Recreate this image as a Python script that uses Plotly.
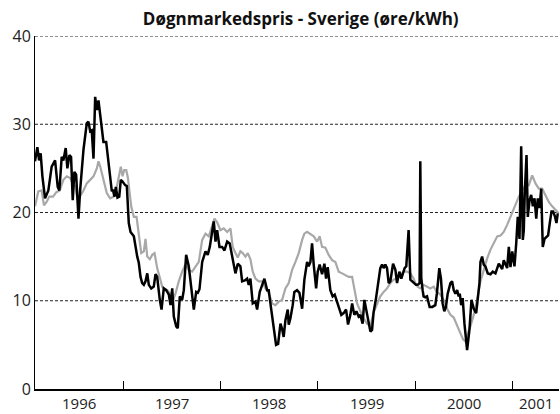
import pandas as pd
import plotly.graph_objects as go

# ---- data (decimal years, øre/kWh) ----
black_t = [1996.092, 1996.116, 1996.134, 1996.150, 1996.168, 1996.195, 1996.229, 1996.263, 1996.298, 1996.325,
           1996.342, 1996.366, 1996.383, 1996.407, 1996.424, 1996.445, 1996.462, 1996.479, 1996.496, 1996.514,
           1996.538, 1996.555, 1996.589, 1996.623, 1996.640, 1996.658, 1996.674, 1996.692, 1996.709, 1996.726,
           1996.743, 1996.761, 1996.794, 1996.822, 1996.856, 1996.880, 1996.890, 1996.908, 1996.921, 1996.938,
           1996.956, 1996.972, 1996.990, 1997.017, 1997.034, 1997.054, 1997.072, 1997.106, 1997.141, 1997.157,
           1997.175, 1997.192, 1997.209, 1997.226, 1997.244, 1997.260, 1997.285, 1997.311, 1997.329, 1997.346,
           1997.373, 1997.391, 1997.414, 1997.439, 1997.466, 1997.483, 1997.501, 1997.517, 1997.542, 1997.558,
           1997.579, 1997.603, 1997.620, 1997.644, 1997.671, 1997.696, 1997.723, 1997.747, 1997.764, 1997.781,
           1997.809, 1997.843, 1997.866, 1997.887, 1997.904, 1997.928, 1997.946, 1997.963, 1997.987, 1998.014,
           1998.038, 1998.066, 1998.092, 1998.123, 1998.151, 1998.175, 1998.202, 1998.220, 1998.247, 1998.271,
           1998.288, 1998.305, 1998.329, 1998.357, 1998.374, 1998.401, 1998.426, 1998.449, 1998.477, 1998.493,
           1998.518, 1998.545, 1998.569, 1998.590, 1998.614, 1998.631, 1998.647, 1998.665, 1998.689, 1998.699,
           1998.716, 1998.740, 1998.757, 1998.785, 1998.809, 1998.837, 1998.860, 1998.888, 1998.904, 1998.922,
           1998.939, 1998.956, 1998.981, 1998.997, 1999.017, 1999.042, 1999.066, 1999.083, 1999.100, 1999.127,
           1999.151, 1999.172, 1999.196, 1999.220, 1999.240, 1999.264, 1999.289, 1999.309, 1999.333, 1999.351,
           1999.374, 1999.395, 1999.418, 1999.436, 1999.459, 1999.477, 1999.497, 1999.521, 1999.539, 1999.556,
           1999.572, 1999.597, 1999.624, 1999.641, 1999.659, 1999.675, 1999.693, 1999.710, 1999.727, 1999.744,
           1999.772, 1999.796, 1999.813, 1999.837, 1999.857, 1999.891, 1999.908, 1999.932, 1999.950, 1999.984,
           2000.008, 2000.025, 2000.045, 2000.052, 2000.062, 2000.076, 2000.086, 2000.103, 2000.121, 2000.148,
           2000.175, 2000.206, 2000.222, 2000.247, 2000.264, 2000.281, 2000.298, 2000.315, 2000.333, 2000.361,
           2000.378, 2000.395, 2000.412, 2000.430, 2000.446, 2000.457, 2000.471, 2000.487, 2000.505, 2000.532,
           2000.556, 2000.577, 2000.600, 2000.625, 2000.641, 2000.659, 2000.669, 2000.686, 2000.703, 2000.720,
           2000.744, 2000.772, 2000.795, 2000.823, 2000.857, 2000.892, 2000.908, 2000.943, 2000.960, 2000.977,
           2000.995, 2001.018, 2001.036, 2001.052, 2001.070, 2001.087, 2001.104, 2001.114, 2001.124, 2001.142,
           2001.155, 2001.173, 2001.190, 2001.207, 2001.224, 2001.242, 2001.258, 2001.275, 2001.293, 2001.309,
           2001.327, 2001.347, 2001.364, 2001.381, 2001.399, 2001.416, 2001.433, 2001.450, 2001.463]
black_v = [25.8, 27.4, 25.9, 26.7, 24.1, 21.6, 22.5, 25.2, 25.9, 22.9,
           22.5, 26.3, 25.9, 27.3, 25.0, 26.5, 26.3, 21.4, 24.6, 24.3,
           19.3, 22.5, 27.1, 30.1, 30.3, 29.2, 29.3, 26.1, 33.1, 31.6,
           32.7, 31.2, 28.0, 28.0, 24.4, 22.4, 22.6, 21.8, 22.9, 21.7,
           21.8, 23.7, 23.5, 23.1, 23.0, 18.8, 17.8, 17.3, 15.0, 14.3,
           12.7, 12.0, 11.8, 12.2, 13.1, 11.8, 11.4, 11.6, 13.0, 12.7,
           10.1, 9.0, 11.4, 11.2, 10.7, 9.5, 11.4, 8.2, 7.1, 6.9,
           10.5, 10.1, 11.2, 15.2, 13.9, 11.6, 9.0, 11.0, 10.9, 11.3,
           14.4, 15.6, 15.2, 16.1, 17.3, 19.0, 16.7, 18.0, 16.1, 16.1,
           15.7, 16.7, 16.5, 14.8, 13.1, 14.2, 13.9, 12.2, 12.3, 12.5,
           11.8, 12.5, 9.7, 9.9, 9.0, 11.0, 11.8, 12.5, 11.2, 11.2,
           9.1, 7.1, 5.0, 5.1, 7.4, 6.8, 5.9, 7.8, 9.0, 7.3,
           8.0, 9.5, 11.0, 11.2, 10.9, 9.1, 12.4, 14.4, 13.9, 14.4,
           16.5, 14.1, 11.4, 13.3, 14.1, 13.0, 14.2, 12.5, 13.8, 11.2,
           10.5, 10.7, 9.9, 9.3, 8.4, 8.6, 9.0, 7.3, 8.4, 9.7,
           8.4, 8.8, 8.2, 8.4, 7.4, 10.1, 9.0, 7.6, 6.5, 6.7,
           8.7, 10.3, 12.4, 13.7, 14.1, 13.7, 14.1, 13.7, 12.0, 12.2,
           14.2, 13.5, 12.0, 13.3, 12.5, 13.7, 13.9, 18.0, 12.4, 12.0,
           11.8, 11.8, 12.0, 25.8, 12.6, 11.2, 10.5, 10.4, 10.5, 9.3,
           9.3, 9.5, 10.8, 13.7, 12.5, 9.7, 8.8, 9.3, 10.8, 12.0,
           12.2, 11.2, 10.8, 11.2, 10.5, 10.8, 9.5, 10.3, 7.4, 4.4,
           6.7, 10.1, 9.1, 8.6, 10.0, 12.0, 14.4, 15.0, 14.1, 13.9,
           13.1, 13.0, 13.3, 13.1, 14.2, 13.6, 14.6, 13.7, 16.1, 13.8,
           15.6, 13.9, 16.5, 19.5, 17.0, 27.5, 16.9, 18.0, 22.2, 26.5,
           19.5, 21.4, 22.0, 20.7, 21.6, 19.3, 21.6, 20.5, 22.7, 16.1,
           17.0, 17.2, 17.4, 18.8, 20.1, 20.1, 19.6, 18.8, 19.9]

gray_t = [1996.092, 1996.126, 1996.160, 1996.184, 1996.211, 1996.239, 1996.277, 1996.311, 1996.346, 1996.383,
          1996.418, 1996.452, 1996.479, 1996.503, 1996.531, 1996.555, 1996.589, 1996.623, 1996.658, 1996.692,
          1996.726, 1996.743, 1996.761, 1996.794, 1996.828, 1996.863, 1996.897, 1996.931, 1996.959, 1996.972,
          1996.990, 1997.007, 1997.028, 1997.044, 1997.079, 1997.106, 1997.134, 1997.157, 1997.182, 1997.209,
          1997.226, 1997.244, 1997.270, 1997.295, 1997.319, 1997.346, 1997.373, 1997.398, 1997.414, 1997.449,
          1997.473, 1997.490, 1997.511, 1997.534, 1997.568, 1997.603, 1997.637, 1997.671, 1997.706, 1997.740,
          1997.774, 1997.809, 1997.843, 1997.877, 1997.912, 1997.935, 1997.963, 1997.997, 1998.031, 1998.066,
          1998.100, 1998.123, 1998.151, 1998.175, 1998.202, 1998.226, 1998.254, 1998.278, 1998.305, 1998.329,
          1998.357, 1998.391, 1998.426, 1998.459, 1998.493, 1998.528, 1998.562, 1998.596, 1998.631, 1998.665,
          1998.699, 1998.734, 1998.768, 1998.802, 1998.837, 1998.860, 1998.888, 1998.922, 1998.956, 1998.991,
          1999.017, 1999.042, 1999.076, 1999.110, 1999.145, 1999.179, 1999.213, 1999.248, 1999.282, 1999.316,
          1999.351, 1999.374, 1999.402, 1999.436, 1999.470, 1999.505, 1999.539, 1999.572, 1999.607, 1999.641,
          1999.675, 1999.710, 1999.744, 1999.778, 1999.813, 1999.847, 1999.881, 1999.915, 1999.950, 1999.984,
          2000.001, 2000.025, 2000.052, 2000.086, 2000.121, 2000.155, 2000.189, 2000.223, 2000.258, 2000.292,
          2000.327, 2000.361, 2000.395, 2000.429, 2000.464, 2000.492, 2000.515, 2000.539, 2000.566, 2000.600,
          2000.635, 2000.669, 2000.703, 2000.738, 2000.772, 2000.806, 2000.841, 2000.875, 2000.908, 2000.943,
          2000.977, 2000.995, 2001.029, 2001.063, 2001.097, 2001.131, 2001.166, 2001.200, 2001.234, 2001.268,
          2001.303, 2001.337, 2001.371, 2001.406, 2001.440, 2001.474]
gray_v = [20.7, 22.4, 22.5, 20.8, 21.2, 21.8, 21.8, 22.3, 22.5, 23.7,
          24.1, 23.9, 23.3, 23.0, 21.4, 21.8, 22.5, 23.3, 23.7, 24.1,
          25.0, 25.8, 25.2, 23.7, 22.2, 21.6, 21.8, 22.9, 24.4, 25.2,
          24.1, 24.8, 24.8, 24.0, 20.7, 19.5, 19.5, 17.6, 15.4, 15.6,
          17.0, 15.0, 14.7, 15.2, 15.4, 13.7, 12.5, 11.6, 11.4, 11.2,
          10.9, 10.7, 10.1, 10.8, 12.2, 13.3, 14.1, 13.5, 13.3, 13.9,
          14.4, 16.9, 17.6, 17.3, 18.4, 19.3, 18.9, 18.0, 18.2, 17.8,
          18.2, 16.1, 15.4, 14.9, 15.6, 15.4, 15.0, 15.4, 14.7, 13.3,
          12.5, 12.2, 12.2, 11.4, 10.9, 9.7, 9.5, 9.9, 10.1, 11.4,
          12.0, 13.5, 14.4, 15.4, 16.9, 17.6, 17.8, 17.5, 17.3, 16.7,
          17.3, 16.1, 16.0, 15.2, 14.6, 14.4, 13.3, 13.1, 12.9, 12.7,
          12.7, 11.2, 9.7, 8.8, 8.0, 7.4, 7.1, 8.7, 9.7, 10.5,
          11.0, 11.4, 12.0, 12.4, 12.5, 12.9, 13.3, 13.3, 13.1, 12.5,
          12.0, 11.6, 11.4, 11.8, 11.6, 11.4, 11.6, 11.0, 10.7, 10.1,
          9.1, 8.4, 8.1, 7.1, 6.3, 5.6, 5.4, 6.3, 7.1, 8.4,
          10.1, 12.2, 13.5, 14.8, 15.8, 16.5, 17.3, 17.4, 17.8, 18.6,
          19.5, 19.9, 21.0, 21.8, 22.5, 23.1, 23.1, 24.2, 23.3, 22.7,
          22.7, 22.0, 21.2, 20.7, 20.3, 19.9]

years = [1996, 1997, 1998, 1999, 2000, 2001]
year_labels = ["1996", "1997", "1998", "1999", "2000", "2001"]
y_ticks = [0, 10, 20, 30, 40]
title_text = "Døgnmarkedspris - Sverige (øre/kWh)"


def to_date(dec):
    y = int(dec)
    start = pd.Timestamp(year=y, month=1, day=1)
    end = pd.Timestamp(year=y + 1, month=1, day=1)
    return start + (dec - y) * (end - start)


black_x = [to_date(t) for t in black_t]
gray_x = [to_date(t) for t in gray_t]

x_start = to_date(1996.092)
x_end = to_date(2001.476)

FONT = "Open Sans"

fig = go.Figure()
fig.add_trace(go.Scatter(x=gray_x, y=gray_v, mode="lines",
                         line=dict(color="#a8a8a8", width=2.2), showlegend=False))
fig.add_trace(go.Scatter(x=black_x, y=black_v, mode="lines",
                         line=dict(color="#000000", width=2.5), showlegend=False))

# dotted horizontal grid lines
for v in y_ticks[1:]:
    fig.add_shape(type="line", xref="paper", x0=0, x1=1, yref="y", y0=v, y1=v,
                  line=dict(color="#222222", width=1, dash="3px,2px"), layer="below")

# year labels centred on the visible part of each year
annotations = []
for yr, lab in zip(years, year_labels):
    a = max(pd.Timestamp(year=yr, month=1, day=1), x_start)
    b = min(pd.Timestamp(year=yr + 1, month=1, day=1), x_end)
    mid = a + (b - a) / 2
    annotations.append(dict(x=mid, y=0, xref="x", yref="paper", text=lab, showarrow=False,
                            yanchor="top", yshift=-3, borderpad=0,
                            font=dict(family=FONT, size=15, color="#222222")))

fig.update_layout(
    width=560, height=414,
    margin=dict(l=35, r=1, t=36, b=25),
    paper_bgcolor="white", plot_bgcolor="white",
    title=dict(text="<b>" + title_text + "</b>", x=0.537, xanchor="center", y=0.955, yanchor="middle",
               font=dict(family=FONT, size=17, color="#111111")),
    xaxis=dict(type="date", range=[x_start, x_end], showgrid=False, zeroline=False,
               tickmode="array",
               tickvals=[pd.Timestamp(year=yr, month=1, day=1) for yr in years[1:]],
               ticks="inside", ticklen=8, tickwidth=1, tickcolor="#000000",
               showticklabels=False,
               showline=True, linecolor="#000000", linewidth=1.5),
    yaxis=dict(range=[0, 40], tickmode="array", tickvals=y_ticks,
               ticktext=[str(v) for v in y_ticks], showgrid=False, zeroline=False,
               ticks="", showline=True, linecolor="#000000", linewidth=1,
               tickfont=dict(family=FONT, size=16, color="#222222")),
    annotations=annotations,
    showlegend=False,
)

fig.write_html("out.html", config={"displayModeBar": False},
               post_script="document.body.style.margin='0';document.body.style.overflow='hidden';")
